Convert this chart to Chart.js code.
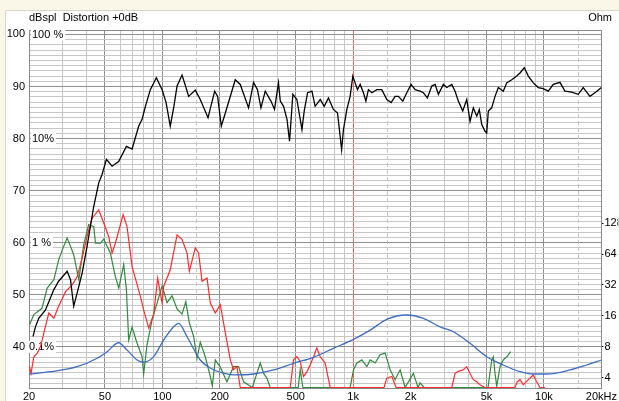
<!DOCTYPE html>
<html><head><meta charset="utf-8">
<script src="https://cdn.jsdelivr.net/npm/chart.js@4/dist/chart.umd.min.js"></script>
<style>html,body{margin:0;padding:0;background:#fbf7e8;overflow:hidden}canvas{display:block}</style>
</head><body>
<canvas id="c" width="619" height="401"></canvas>
<script>
// ---- data ----
const spl_hz = [21,21.6,22.5,24.4,27,28.6,31.7,33,34.3,35.8,38,40.3,43.7,46.4,48.3,50.9,54.5,59,64.8,69.4,75.2,78.3,81.5,86.5,93,99.7,104.6,110,114.6,119.4,126.8,133,137.3,148.8,158,173.5,188,194.8,203.6,213.8,241,256,283,300.6,315,328.6,346,370.8,387,406,415,431.7,450,464,483,507,539,554,577,608,632,672,705,742,788,828,870,889,927,964,996,1024,1053,1088,1132,1166,1202,1253,1330,1413,1501,1581,1659,1726,1820,1910,2012,2113,2242,2334,2449,2582,2687,2796,2970,3094,3287,3420,3558,3752,3938,4098,4264,4444,4582,4720,4910,5011,5110,5322,5540,5766,6121,6378,6775,7197,7488,7888,8279,8790,9334,9914,10534,11188,12128,12884,13964,15122,16058,17416,18494,20000];
const spl_db = [42.0,43.8,45.5,47.1,51,52.6,54.5,52.9,47.8,50.4,54.2,59.3,67.0,71.5,73.1,76.0,74.7,75.6,78.5,78.0,82.4,83.7,86.2,89.4,91.7,89.4,86.9,82.4,85.9,90.1,92.2,89.8,88.1,89.3,87.5,84.0,89.1,88.1,82.4,84.9,91.3,90.4,85.9,90.8,89.4,85.9,89.1,87.2,85.6,90.7,87.2,86.2,83.7,79.5,88.5,87.5,81.7,85.3,88.8,89.1,86.2,87.5,86.2,87.8,85.6,84.9,77.9,81.7,85.6,88.1,92.0,90.7,89.4,90.4,88.8,87.2,89.4,88.8,89.4,89.4,87.5,86.9,88.1,88.1,87.2,88.8,90.4,89.4,89.1,88.8,87.8,90.1,90.4,88.5,90.4,89.8,90.4,89.1,87.2,85.3,87.5,83.3,85.9,84.3,85.6,82.7,81.4,81.1,85.3,85.9,88.1,89.8,89.1,90.7,91.3,92.0,92.6,93.6,92.0,90.7,89.8,89.6,89.1,90.4,90.8,89.1,88.9,88.5,89.8,88.1,88.8,89.8];

const h2_hz = [20.1,20.5,21.2,22.1,23.0,23.9,25.4,27.0,28.6,31.1,33.7,35.8,38.0,40.3,42.8,46.4,49.3,52.3,54.5,56.7,62.3,65.3,69.4,76.7,79.8,84.8,90,94.5,99.7,101.6,110,119.4,126.8,134.7,138.5,148.8,154.9,161.4,171.4,178.4,189.4,201.2,213.8,227,236,246,256,468,487,507,528,549,572,595,620,645,672,713,758,1452,1500,1595,1680,3287,3420,3558,3780,3938,4098,4264,4444,4624,4910,7048,7246,7488,7792,8279,8790,9158,9528,10130];
const h2_db = [36.2,34.9,38.1,38.8,40.1,42.6,46.5,45.5,47.8,50.6,51.9,53.5,57.1,61.2,64.7,66.3,63.8,61.2,58.0,59.9,65.4,63.1,55.4,49.7,47.1,43.6,46.2,53.2,48.4,51.6,54.8,61.5,60.6,58.0,54.5,59.0,58.0,52.6,53.2,48.4,46.5,48.1,42.7,37.5,35.6,36.2,32.2,32.2,37.5,38.1,37.2,34.3,35.2,36.5,38.1,39.8,38.1,36.9,32.2,32.2,34.0,34.3,32.2,32.2,34.9,35.3,35.6,36.2,34.9,33.7,33.3,32.7,32.2,32.2,33.3,33.7,32.7,33.7,34.6,33.3,32.2,32.2];

const h3_hz = [20.1,21.2,23.4,24.9,27.0,28.6,30.4,31.7,33.0,34.3,36.5,38.7,41.1,43.7,44.6,47.4,49.3,53.4,56.7,59.1,62.7,64.8,66.6,69.4,73.7,78.3,79.8,83.1,88.3,93.8,99.7,105.8,112.4,119.4,126.8,132.7,138.5,145.9,151.9,158,167.9,178.4,182.7,189.4,201.2,218,236,250.8,266.5,296,325.9,339.3,353,367.6,515,528,545,964,1004,1046,1110,1179,1228,1304,1384,1471,1562,1659,1762,1871,2068,2188,2242,2354,5092,5322,5428,5540,5654,5882,6121,6378,6692];
const h3_db = [44.2,46.2,47.4,51.3,52.9,56.7,59.3,60.9,59.3,57.7,52.9,59.6,63.5,63.1,59.9,59.9,60.7,58.0,53.5,51.3,55.8,51.0,41.3,43.8,40.7,38.1,34.8,40.4,45.2,48.4,51.7,48.5,49.8,47.3,46.3,48.7,44.6,42.0,37.8,40.9,38.1,34.3,32.5,37.5,36.1,33.3,36.2,36.2,33.3,32.2,36.9,34.9,34.0,32.2,32.2,35.6,32.2,32.2,35.6,36.9,37.5,36.2,37.5,36.9,38.5,38.8,35.6,33.7,35.6,32.2,34.9,32.2,33.1,32.2,32.2,37.5,38.1,34.9,32.4,36.2,37.5,38.1,39.1];

const imp_hz = [20,25.9,35.8,45.5,51.3,59,65.3,73.7,79.8,90,101.6,114.6,121.7,134.7,158,179,209,236,300,383,487,620,788,1004,1228,1500,1910,2334,2854,3360,4098,5011,6121,7488,8790,10328,13680,16732,20000];
const imp_ohm = [4.34,4.57,5.11,6.18,7.15,8.75,7.43,5.94,5.65,6.4,9.3,12.5,13.5,10.0,5.94,4.94,4.42,4.25,4.34,4.75,5.52,6.31,7.72,9.44,11.6,14.8,16.3,15.1,12.5,11.2,8.63,6.4,5.31,4.57,4.34,4.34,4.75,5.31,5.94];

// ---- ticks / labels ----
const xGridValues = [20,30,40,50,60,70,80,90,100,200,300,400,500,600,700,800,900,1000,2000,3000,4000,5000,6000,7000,8000,9000,10000,20000];
const xDarkValues = [50,100,200,500,1000,2000,5000,10000];
const xDashedValues = [150,1500,15000];
const xLabelValues = [20,50,100,200,500,1000,2000,5000,10000,20000];
const xLabelTexts = ['20','50','100','200','500','1k','2k','5k','10k','20kHz'];
const dbLabelValues = [40,50,60,70,80,90,100];
const pctLabelTexts = ['100 %','10%','1 %','0.1%'];
const pctLabelAt = [100,80,60,40];
const ohmTicks = [4,8,16,32,64,128];
const headerLeft = 'dBspl  Distortion +0dB';
const headerRight = 'Ohm';

const FONT = '"Liberation Sans", Arial, sans-serif';
Chart.defaults.font.family = FONT;
Chart.defaults.font.size = 11;
Chart.defaults.color = '#000';

const pts = (xs, ys) => xs.map((v, i) => ({x: v, y: ys[i]}));

const bgPlugin = {
  id: 'bg',
  beforeDraw(chart) {
    const ctx = chart.ctx;
    ctx.save();
    ctx.fillStyle = '#fbf7e8';
    ctx.fillRect(0, 0, chart.width, chart.height);
    ctx.fillStyle = '#ffffff';
    ctx.fillRect(5, 10, chart.width - 5, chart.height - 10);
    ctx.strokeStyle = '#d9d5c6';
    ctx.lineWidth = 1;
    ctx.beginPath();
    ctx.moveTo(5.5, chart.height); ctx.lineTo(5.5, 10.5); ctx.lineTo(chart.width, 10.5);
    ctx.stroke();
    ctx.restore();
  }
};

const decoPlugin = {
  id: 'deco',
  beforeDatasetsDraw(chart) {
    const ctx = chart.ctx, a = chart.chartArea, xs = chart.scales.x, ys = chart.scales.y;
    ctx.save();
    // dashed grid lines
    ctx.strokeStyle = '#c4c4c4';
    ctx.lineWidth = 1;
    ctx.setLineDash([4, 3]);
    xDashedValues.forEach(v => {
      const px = Math.round(xs.getPixelForValue(v)) + 0.5;
      ctx.beginPath(); ctx.moveTo(px, a.top); ctx.lineTo(px, a.bottom); ctx.stroke();
    });
    ctx.setLineDash([]);
    // plot frame
    ctx.strokeStyle = '#8a8a8a';
    ctx.strokeRect(Math.round(a.left) + 0.5, Math.round(a.top) + 0.5, Math.round(a.right - a.left), Math.round(a.bottom - a.top));
    // percent labels
    ctx.font = '11px ' + FONT;
    ctx.textBaseline = 'middle';
    pctLabelTexts.forEach((t, i) => {
      const py = ys.getPixelForValue(pctLabelAt[i]);
      const x0 = i === 3 ? 28 : 31;
      const w = ctx.measureText(t).width;
      ctx.fillStyle = '#ffffff';
      ctx.fillRect(x0, py - 6, w + 3, 12);
      ctx.fillStyle = '#000';
      ctx.fillText(t, x0 + 1, py + 0.5);
    });
    ctx.restore();
  },
  afterDraw(chart) {
    const ctx = chart.ctx;
    ctx.save();
    ctx.font = '11px ' + FONT;
    ctx.fillStyle = '#000';
    ctx.textBaseline = 'middle';
    ctx.textAlign = 'left';
    ctx.fillText(headerLeft, 29, 18);
    ctx.textAlign = 'right';
    ctx.fillText(headerRight, 612, 18);
    ctx.restore();
  }
};

new Chart(document.getElementById('c'), {
  type: 'line',
  data: {
    datasets: [
      {label: 'SPL', data: pts(spl_hz, spl_db), borderColor: '#000000', borderWidth: 1.3, pointRadius: 0, tension: 0, yAxisID: 'y', order: 0},
      {label: 'Impedance', data: pts(imp_hz, imp_ohm), borderColor: '#3d6cc4', borderWidth: 1.3, pointRadius: 0, cubicInterpolationMode: 'monotone', yAxisID: 'y2', order: 1},
      {label: 'H2', data: pts(h2_hz, h2_db), borderColor: '#ff2a2a', borderWidth: 1.2, pointRadius: 0, tension: 0, yAxisID: 'y', order: 2},
      {label: 'H3', data: pts(h3_hz, h3_db), borderColor: '#2f8a3c', borderWidth: 1.2, pointRadius: 0, tension: 0, yAxisID: 'y', order: 3}
    ]
  },
  options: {
    responsive: false,
    animation: false,
    events: [],
    devicePixelRatio: 1,
    layout: {padding: {top: 30, left: 0, right: 0, bottom: 0}},
    plugins: {legend: {display: false}, tooltip: {enabled: false}, title: {display: false}},
    scales: {
      x: {
        type: 'logarithmic', position: 'bottom', min: 20, max: 20000,
        afterBuildTicks: s => { s.ticks = xGridValues.map(v => ({value: v})); },
        afterFit: s => { s.height = 13; },
        ticks: {
          autoSkip: false, maxRotation: 0, minRotation: 0, padding: 2, color: '#000',
          callback: v => { const i = xLabelValues.indexOf(v); return i >= 0 ? xLabelTexts[i] : ''; }
        },
        grid: {
          drawTicks: false, lineWidth: 1,
          color: c => { const v = c.tick ? c.tick.value : 0; if (v === 1000) return '#ff5a5a'; return xDarkValues.includes(v) ? '#8e8e8e' : '#c6c6c6'; }
        },
        border: {display: false}
      },
      y: {
        type: 'linear', position: 'left', min: 32.1, max: 100.85,
        afterBuildTicks: s => { const t = []; for (let v = 33; v <= 100; v++) t.push({value: v}); s.ticks = t; },
        afterFit: s => { s.width = 29; },
        ticks: {
          autoSkip: false, padding: 4, color: '#000',
          callback: v => dbLabelValues.includes(v) ? String(v) : ''
        },
        grid: {
          drawTicks: false, lineWidth: 1,
          color: c => { const v = c.tick ? c.tick.value : 0; return v % 10 === 0 ? '#8e8e8e' : '#c6c6c6'; }
        },
        border: {display: false}
      },
      y2: {
        type: 'logarithmic', position: 'right', min: 3.17, max: 9737,
        afterBuildTicks: s => { s.ticks = ohmTicks.map(v => ({value: v})); },
        afterFit: s => { s.width = 17; },
        ticks: {autoSkip: false, padding: 1, color: '#000', callback: v => String(v)},
        grid: {drawOnChartArea: false, drawTicks: true, tickLength: 2, tickColor: '#000'},
        border: {display: false}
      }
    }
  },
  plugins: [bgPlugin, decoPlugin]
});
</script>
</body></html>
